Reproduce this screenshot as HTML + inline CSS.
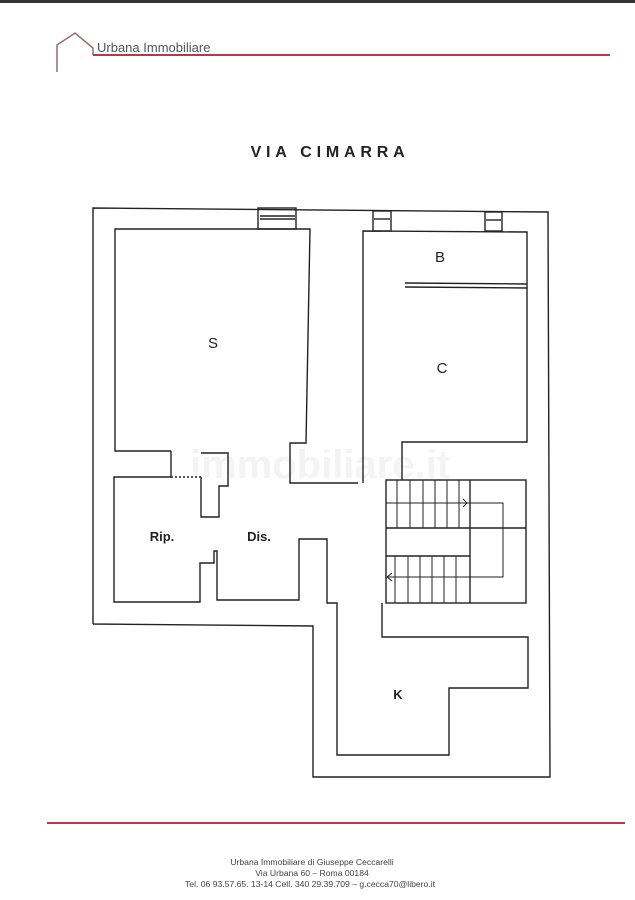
<!DOCTYPE html>
<html><head><meta charset="utf-8"><style>
html,body{margin:0;padding:0;background:#fff}
svg{display:block}
</style></head><body>
<svg width="635" height="900" viewBox="0 0 635 900" xmlns="http://www.w3.org/2000/svg">
<rect width="635" height="900" fill="#fff"/>
<rect x="0" y="0" width="635" height="3" fill="#333"/>
<polyline points="57,72 57,45 75,33 93,48 93,55" fill="none" stroke="#9a6a70" stroke-width="1.5"/>
<line x1="93" y1="55" x2="610" y2="55" stroke="#b23a4c" stroke-width="2"/>
<text x="97" y="52" font-family="Liberation Sans, sans-serif" font-size="13" fill="#555">Urbana Immobiliare</text>
<text x="330" y="157" font-family="Liberation Sans, sans-serif" font-size="16" font-weight="bold" letter-spacing="4.8" fill="#222" text-anchor="middle">VIA  CIMARRA</text>
<text x="320" y="478" font-family="Liberation Sans, sans-serif" font-size="40" font-weight="bold" fill="#f4f4f4" text-anchor="middle">immobiliare.it</text>
<g fill="none" stroke="#222" stroke-width="1.4">
<polyline points="93,624 93,208 548,212 550,777 313,777 313,626 93,624"/>
<rect x="258" y="208" width="38" height="21"/><line x1="260" y1="216" x2="295" y2="216"/><line x1="260" y1="219" x2="295" y2="219"/>
<rect x="373" y="211" width="18" height="20"/><line x1="374" y1="219" x2="390" y2="219"/>
<rect x="485" y="212" width="17" height="19"/><line x1="486" y1="220" x2="501" y2="220"/>
<polyline points="171,451 115,451 115,229 310,229 306,443 290,443 290,483 358,483"/>
<polyline points="363,483 363,231 527,232 527,442 402,442 402,480"/>
<line x1="405" y1="283" x2="527" y2="284"/><line x1="405" y1="287" x2="527" y2="288"/>
<polyline points="171,451 171,477 114,477 114,602 200,602 200,563 214,563 214,551 217,551 217,600 299,600 299,539 327,539 327,603 337,603 337,755 449,755 449,688 528,688 528,637 382,637 382,603"/>
<polyline points="201,453 228,453 228,486 219,486 219,517 201,517 201,477"/>
<line x1="171" y1="477" x2="201" y2="477" stroke-dasharray="2,2"/>
<rect x="386" y="480" width="140" height="123"/>
<line x1="386" y1="528" x2="526" y2="528"/>
<line x1="386" y1="556" x2="470" y2="556"/>
<line x1="470" y1="480" x2="470" y2="603"/>
<g stroke-width="1">
<line x1="397" y1="480" x2="397" y2="528"/><line x1="410" y1="480" x2="410" y2="528"/><line x1="423" y1="480" x2="423" y2="528"/><line x1="435" y1="480" x2="435" y2="528"/><line x1="447" y1="480" x2="447" y2="528"/><line x1="459" y1="480" x2="459" y2="528"/>
<line x1="395" y1="556" x2="395" y2="603"/><line x1="408" y1="556" x2="408" y2="603"/><line x1="420" y1="556" x2="420" y2="603"/><line x1="432" y1="556" x2="432" y2="603"/><line x1="444" y1="556" x2="444" y2="603"/><line x1="456" y1="556" x2="456" y2="603"/>
<polyline points="386,503 503,503 503,577 387,577"/>
<polyline points="463,499 467,503 463,507"/>
<polyline points="392,573 387,577 392,581"/>
</g>
</g>
<g font-family="Liberation Sans, sans-serif" font-size="15" fill="#222" text-anchor="middle">
<text x="213" y="348">S</text>
<text x="440" y="262">B</text>
<text x="442" y="373">C</text>
<text x="162" y="541" font-weight="bold" font-size="13">Rip.</text>
<text x="259" y="541" font-weight="bold" font-size="13">Dis.</text>
<text x="398" y="699" font-weight="bold" font-size="13">K</text>
</g>
<line x1="47" y1="823" x2="625" y2="823" stroke="#b23a4c" stroke-width="2"/>
<g font-family="Liberation Sans, sans-serif" font-size="8.6" fill="#444" text-anchor="middle">
<text x="312" y="865">Urbana Immobiliare di Giuseppe Ceccarelli</text>
<text x="312" y="876">Via Urbana 60 – Roma 00184</text>
<text x="310" y="887">Tel. 06 93.57.65. 13-14   Cell. 340 29.39.709 – g.cecca70@libero.it</text>
</g>
</svg>
</body></html>
